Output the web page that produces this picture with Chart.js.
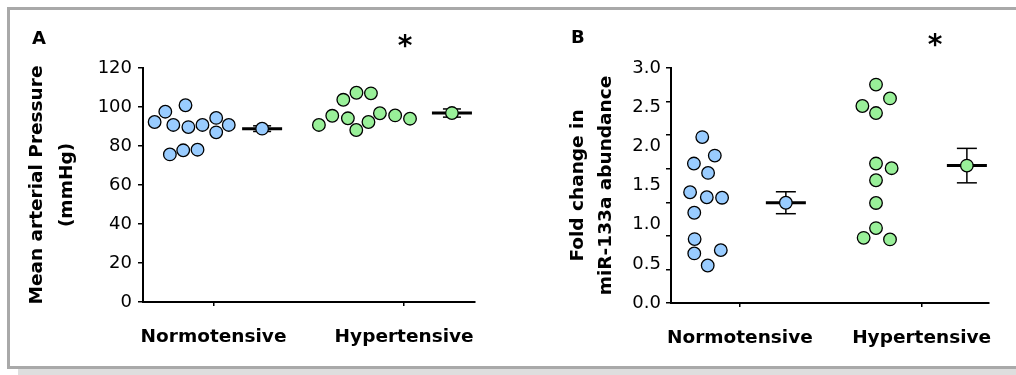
<!DOCTYPE html>
<html>
<head>
<meta charset="utf-8">
<title>Mean arterial pressure and miR-133a abundance</title>
<script src="https://cdn.jsdelivr.net/npm/chart.js@4.4.1/dist/chart.umd.min.js"></script>
<style>
  html, body { margin: 0; padding: 0; background: #fff; }
  #page { position: relative; width: 1016px; height: 375px; overflow: hidden; font-family: 'DejaVu Sans', sans-serif; color: #000; }
  .frame { position: absolute; left: 7px; top: 7px; width: 1040px; height: 356px; border: 3px solid #a9a9a9; }
  .shadow { position: absolute; left: 18px; top: 369px; width: 1000px; height: 6px; background: #dedede; }
  canvas { position: absolute; top: 0; }
  .tag { position: absolute; font-weight: bold; font-size: 18px; line-height: 1; }
  .star { position: absolute; font-weight: bold; font-size: 28px; line-height: 1; transform: translateX(-50%); }
</style>
</head>
<body>
<div id="page">
  <div class="frame"></div>
  <div class="shadow"></div>
  <canvas id="chart-a" width="508" height="375" style="left:0"></canvas>
  <canvas id="chart-b" width="508" height="375" style="left:508px"></canvas>
  <div class="tag" style="left:32px; top:29px">A</div>
  <div class="tag" style="left:571px; top:28px">B</div>
  <div class="star" style="left:405px; top:32px">*</div>
  <div class="star" style="left:935px; top:31px">*</div>
</div>
<script>
(function () {
	'use strict';

	// Groups on the x axis
	var groups   = ['Normotensive', 'Hypertensive'];
	var groupPos = [1, 2];

	// Tick labels
	var mapTicks   = [0, 20, 40, 60, 80, 100, 120];
	var foldTicks  = [0, 0.5, 1, 1.5, 2, 2.5, 3];
	var foldLabels = ['0.0', '0.5', '1.0', '1.5', '2.0', '2.5', '3.0'];
	var foldMarks  = [0, 1, 2, 3, 4, 5, 6, 7]; // tick marks of panel B (7 divisions)

	// Panel A - mean arterial pressure (mmHg)
	var mapNormX  = [0.691, 0.747, 0.853, 0.789, 0.868, 0.942, 1.014, 1.014, 1.080, 0.771, 0.841, 0.916];
	var mapNormY  = [92.3, 97.6, 100.9, 90.8, 89.7, 90.8, 94.4, 87.0, 90.8, 75.7, 77.8, 78.1];
	var mapHyperX = [1.553, 1.623, 1.681, 1.750, 1.826, 1.705, 1.749, 1.813, 1.873, 1.953, 2.031];
	var mapHyperY = [90.8, 95.5, 103.7, 107.3, 107.0, 94.2, 88.2, 92.3, 96.8, 95.7, 94.0];
	var mapMeanX  = [1.255, 2.251];
	var mapMean   = [88.9, 96.9];
	var mapSem    = [1.45, 2.1];

	// Panel B - fold change in miR-133a abundance
	var foldNormX  = [0.793, 0.862, 0.747, 0.825, 0.726, 0.818, 0.902, 0.749, 0.751, 0.749, 0.895, 0.823];
	var foldNormY  = [2.118, 1.882, 1.780, 1.661, 1.414, 1.350, 1.344, 1.152, 0.816, 0.633, 0.675, 0.479];
	var foldHyperX = [1.749, 1.826, 1.674, 1.749, 1.749, 1.835, 1.749, 1.749, 1.749, 1.681, 1.826];
	var foldHyperY = [2.788, 2.612, 2.515, 2.425, 1.780, 1.721, 1.567, 1.277, 0.956, 0.832, 0.812];
	var foldMeanX  = [1.253, 2.249];
	var foldMean   = [1.28, 1.754];
	var foldSem    = [0.14, 0.22];

	var FONT  = "'DejaVu Sans', sans-serif";
	var BLUE  = '#99ccff';
	var GREEN = '#99f099';
	var fills = [BLUE, GREEN];

	function pts(xs, ys) {
		return xs.map(function (x, i) { return { x: x, y: ys[i] }; });
	}

	// raw points + mean circle + thick mean bar + SEM whisker with caps
	function groupSets(xs, ys, mx, m, sem, fill, capR) {
		var dot = {
			pointRadius: 6.3,
			pointBackgroundColor: fill,
			pointBorderColor: '#000',
			pointBorderWidth: 1.3
		};
		return [
			Object.assign({ data: pts(xs, ys), order: 0 }, dot),
			Object.assign({ data: [{ x: mx, y: m }], order: 0 }, dot),
			{
				data: [{ x: mx, y: m }],
				pointStyle: 'line',
				pointRadius: 20,
				pointBorderColor: '#000',
				pointBorderWidth: 3,
				order: 1
			},
			{
				data: [{ x: mx, y: m - sem }, { x: mx, y: m + sem }],
				showLine: true,
				borderColor: '#000',
				borderWidth: 1.5,
				pointStyle: 'line',
				pointRadius: capR,
				pointBorderColor: '#000',
				pointBorderWidth: 1.5,
				order: 2
			}
		];
	}

	function xScale(min, height) {
		return {
			type: 'linear',
			min: min,
			max: 2.372,
			afterBuildTicks: function (s) {
				s.ticks = groupPos.map(function (v) { return { value: v }; });
			},
			ticks: {
				callback: function (v, i) { return groups[i]; },
				color: '#000',
				font: { family: FONT, size: 18.5, weight: 'bold' },
				padding: 20,
				maxRotation: 0,
				autoSkip: false
			},
			grid: { drawOnChartArea: false, tickLength: 4, color: '#000', lineWidth: 1.5 },
			border: { display: true, color: '#000', width: 2 },
			afterFit: function (s) { s.height = height; }
		};
	}

	function baseOptions(padRight, scales) {
		return {
			responsive: false,
			animation: false,
			devicePixelRatio: 1,
			events: [],
			clip: false,
			layout: { padding: { left: 0, right: padRight, top: 68, bottom: 0 } },
			plugins: { legend: { display: false }, tooltip: { enabled: false } },
			scales: scales
		};
	}

	// Panel A
	var setsA = [];
	[[mapNormX, mapNormY], [mapHyperX, mapHyperY]].forEach(function (g, i) {
		setsA = setsA.concat(groupSets(g[0], g[1], mapMeanX[i], mapMean[i], mapSem[i], fills[i], 9));
	});

	new Chart(document.getElementById('chart-a'), {
		type: 'scatter',
		data: { datasets: setsA },
		options: baseOptions(33, {
			x: xScale(0.63, 73),
			y: {
				type: 'linear',
				position: 'left',
				min: 0,
				max: 120,
				afterBuildTicks: function (s) {
					s.ticks = mapTicks.map(function (v) { return { value: v }; });
				},
				ticks: { color: '#000', font: { family: FONT, size: 18 }, padding: 6 },
				grid: { drawOnChartArea: false, tickLength: 5, color: '#000', lineWidth: 1.5 },
				border: { display: true, color: '#000', width: 2 },
				title: {
					display: true,
					text: ['Mean arterial Pressure', '(mmHg)'],
					color: '#000',
					font: { family: FONT, size: 18.5, weight: 'bold', lineHeight: '30px' },
					padding: { top: 22, bottom: 0 }
				},
				afterFit: function (s) { s.width = 143; }
			}
		})
	});

	// Panel B
	var setsB = [];
	[[foldNormX, foldNormY], [foldHyperX, foldHyperY]].forEach(function (g, i) {
		setsB = setsB.concat(groupSets(g[0], g[1], foldMeanX[i], foldMean[i], foldSem[i], fills[i], 10));
	});

	new Chart(document.getElementById('chart-b'), {
		type: 'scatter',
		data: { datasets: setsB },
		options: baseOptions(12, {
			x: xScale(0.621, 72),
			y: {
				type: 'linear',
				position: 'left',
				weight: 1,
				min: 0,
				max: 3,
				afterBuildTicks: function (s) {
					s.ticks = foldTicks.map(function (v) { return { value: v }; });
				},
				ticks: {
					callback: function (v, i) { return foldLabels[i]; },
					color: '#000',
					font: { family: FONT, size: 18 },
					padding: 10
				},
				grid: { drawOnChartArea: false, drawTicks: false },
				border: { display: true, color: '#000', width: 2 },
				title: {
					display: true,
					text: ['Fold change in', 'miR-133a abundance'],
					color: '#000',
					font: { family: FONT, size: 18.5, weight: 'bold', lineHeight: '28px' },
					padding: { top: 56, bottom: 0 }
				},
				afterFit: function (s) { s.width = 163; }
			},
			yt: {
				type: 'linear',
				position: 'left',
				weight: 0,
				min: 0,
				max: 7,
				afterBuildTicks: function (s) {
					s.ticks = foldMarks.map(function (v) { return { value: v }; });
				},
				ticks: { display: false },
				grid: { drawOnChartArea: false, tickLength: 5, color: '#000', lineWidth: 1.5 },
				border: { display: false },
				afterFit: function (s) { s.width = 0; }
			}
		})
	});
})();
</script>
</body>
</html>
